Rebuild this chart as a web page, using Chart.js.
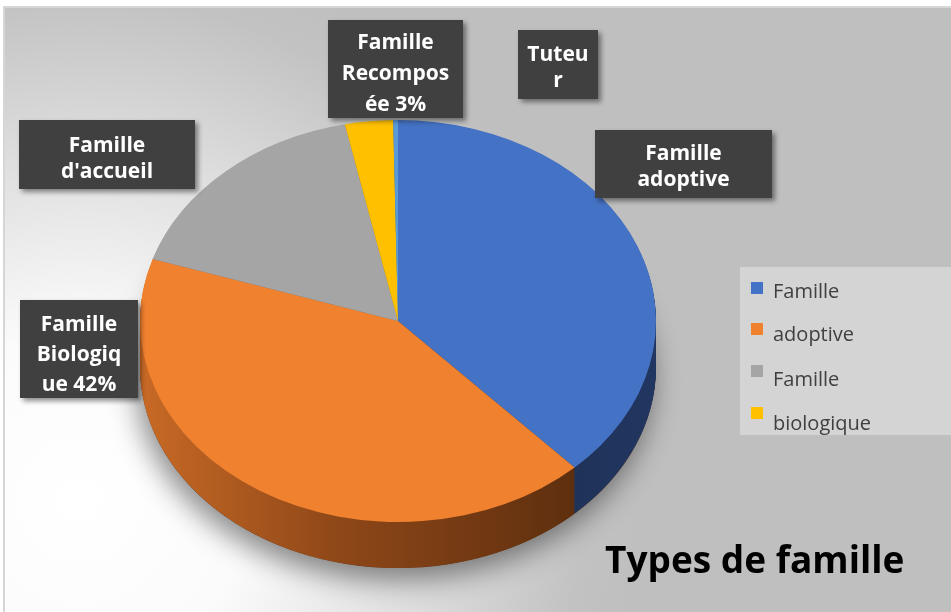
<!DOCTYPE html>
<html>
<head>
<meta charset="utf-8">
<script src="https://cdn.jsdelivr.net/npm/chart.js@4.4.1/dist/chart.umd.min.js"></script>
<style>
html,body{margin:0;padding:0;background:#fff;}
#wrap{position:relative;width:951px;height:612px;}
</style>
</head>
<body>
<div id="wrap"><canvas id="c" width="951" height="612"></canvas></div>
<script>
// ---- data ----
const categories = ["Famille adoptive", "Famille Biologique", "Famille d'accueil", "Famille Recomposée", "Tuteur"];
const values = [38, 42, 16.7, 3, 0.3];
const sliceColors = ["#4472c4", "#f0812f", "#a5a5a5", "#ffc000", "#5b9bd5"];
const labelLines = [
  ["Famille", "adoptive"],
  ["Famille", "Biologiq", "ue 42%"],
  ["Famille", "d'accueil"],
  ["Famille", "Recompos", "ée 3%"],
  ["Tuteu", "r"]
];
const legendLabels = ["Famille", "adoptive", "Famille", "biologique"];
const chartTitle = "Types de famille";

// ---- layout / style (not data) ----
const TILT = 201 / 258;
const DEPTH = 46;
const labelBoxes = [
  {x: 595, y: 130, w: 177, h: 68, base: 160, lh: 26},
  {x: 20, y: 300, w: 118, h: 98, base: 331, lh: 30},
  {x: 19, y: 120, w: 176, h: 69, base: 152, lh: 26},
  {x: 328, y: 20, w: 135, h: 98, base: 49, lh: 31},
  {x: 518, y: 30, w: 80, h: 69, base: 61, lh: 26}
];

function slicePath(ctx, a) {
  ctx.beginPath();
  ctx.moveTo(a.x, a.y);
  ctx.arc(a.x, a.y, a.outerRadius, a.startAngle, a.endAngle);
  ctx.closePath();
}

const bgPlugin = {
  id: 'bg',
  beforeDraw(chart) {
    const ctx = chart.ctx;
    ctx.save();
    ctx.fillStyle = '#ffffff';
    ctx.fillRect(0, 0, 951, 612);
    const g = ctx.createRadialGradient(80, 500, 0, 80, 500, 560);
    g.addColorStop(0, '#ffffff');
    g.addColorStop(0.3, '#fbfbfb');
    g.addColorStop(0.62, '#dedede');
    g.addColorStop(0.9, '#c2c2c2');
    g.addColorStop(1, '#bfbfbf');
    ctx.fillStyle = g;
    ctx.fillRect(4, 7, 947, 605);
    ctx.strokeStyle = '#d6d6d6';
    ctx.lineWidth = 2;
    ctx.strokeRect(4, 7, 949, 607);
    ctx.restore();
  }
};

const pie3d = {
  id: 'pie3d',
  beforeDatasetsDraw(chart) {
    const ctx = chart.ctx;
    const arcs = chart.getDatasetMeta(0).data;
    const cx = arcs[0].x, cy = arcs[0].y, r = arcs[0].outerRadius;
    // shadow
    ctx.save();
    ctx.translate(0, cy + DEPTH);
    ctx.scale(1, TILT);
    ctx.translate(0, -cy);
    ctx.shadowColor = 'rgba(0,0,0,0.45)';
    ctx.shadowBlur = 28;
    ctx.shadowOffsetY = 12;
    ctx.shadowOffsetX = -4;
    ctx.fillStyle = '#6a3510';
    ctx.beginPath();
    ctx.arc(cx, cy, r, 0, Math.PI * 2);
    ctx.fill();
    ctx.restore();
    // sides
    const og = ctx.createLinearGradient(cx - r, 0, cx + r * 0.72, 0);
    og.addColorStop(0, '#c86a26');
    og.addColorStop(0.45, '#8e4718');
    og.addColorStop(1, '#5c2e0e');
    const bg = ctx.createLinearGradient(cx, 0, cx + r, 0);
    bg.addColorStop(0, '#1c2c4a');
    bg.addColorStop(1, '#213660');
    const sides = [bg, og, '#6e6e6e', '#a07800', '#3a6a96'];
    for (let d = DEPTH; d >= 1; d--) {
      ctx.save();
      ctx.translate(0, cy + d);
      ctx.scale(1, TILT);
      ctx.translate(0, -cy);
      arcs.forEach((a, i) => {
        slicePath(ctx, a);
        ctx.fillStyle = sides[i];
        ctx.fill();
      });
      ctx.restore();
    }
    // tilt top face
    ctx.save();
    ctx.translate(0, cy);
    ctx.scale(1, TILT);
    ctx.translate(0, -cy);
  },
  afterDatasetsDraw(chart) {
    chart.ctx.restore();
  }
};

const labelsPlugin = {
  id: 'boxLabels',
  afterDraw(chart) {
    const ctx = chart.ctx;
    ctx.save();
    labelBoxes.forEach((b, i) => {
      ctx.save();
      ctx.shadowColor = 'rgba(0,0,0,0.45)';
      ctx.shadowBlur = 5;
      ctx.shadowOffsetX = 3;
      ctx.shadowOffsetY = 3;
      ctx.fillStyle = '#404040';
      ctx.fillRect(b.x, b.y, b.w, b.h);
      ctx.restore();
      ctx.fillStyle = '#ffffff';
      ctx.font = 'bold 21px "Open Sans"';
      ctx.textAlign = 'center';
      ctx.textBaseline = 'alphabetic';
      labelLines[i].forEach((t, k) => {
        ctx.fillText(t, b.x + b.w / 2, b.base + k * b.lh);
      });
    });
    // legend
    ctx.fillStyle = '#d4d4d4';
    ctx.fillRect(740, 267, 211, 168);
    const markY = [282, 323, 365, 407];
    const textY = [298, 341, 386, 430];
    ctx.font = '20px "Open Sans"';
    ctx.textAlign = 'left';
    legendLabels.forEach((t, i) => {
      ctx.fillStyle = sliceColors[i];
      ctx.fillRect(751, markY[i], 12, 12);
      ctx.fillStyle = '#404040';
      ctx.fillText(t, 773, textY[i]);
    });
    // title
    ctx.fillStyle = '#000000';
    ctx.font = 'bold 37px "Open Sans"';
    ctx.fillText(chartTitle, 605, 573);
    ctx.restore();
  }
};

new Chart(document.getElementById('c'), {
  type: 'pie',
  data: {
    labels: categories,
    datasets: [{
      data: values,
      backgroundColor: sliceColors,
      borderWidth: 0,
      hoverOffset: 0
    }]
  },
  options: {
    responsive: false,
    animation: false,
    events: [],
    layout: {padding: {left: 140, right: 295, top: 63, bottom: 33}},
    plugins: {
      legend: {display: false},
      tooltip: {enabled: false},
      title: {display: false}
    }
  },
  plugins: [bgPlugin, pie3d, labelsPlugin]
});
</script>
</body>
</html>
